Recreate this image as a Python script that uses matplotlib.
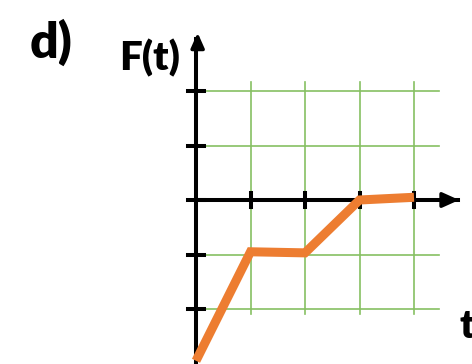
import matplotlib.pyplot as plt

# data (graph units: one grid square = 1)
t_vals = [0, 1, 2, 3, 4]
f_vals = [-2.95, -0.95, -0.97, 0.0, 0.05]
grid_x = [1, 2, 3, 4]
grid_y = [-2, -1, 1, 2]
tick_x = [1, 2, 3, 4]
tick_y = [-2, -1, 0, 1, 2]

W, H = 472, 364
u = 54.5            # pixels per grid unit
ox, oy = 196, 200   # origin position in pixels (from top-left)

fig = plt.figure(figsize=(W / 100, H / 100), dpi=100)
ax = fig.add_axes([0, 0, 1, 1])
ax.set_xlim(-ox / u, (W - ox) / u)
ax.set_ylim(-(H - oy) / u, oy / u)
ax.axis('off')

green = '#86c062'
# grid
for gx in grid_x:
    ax.plot([gx, gx], [-2.1, 2.17], color=green, lw=1.2, zorder=1)
for gy in grid_y:
    ax.plot([0.12, 4.45], [gy, gy], color=green, lw=1.2, zorder=1)

# axes
ax.plot([0, 0], [-3.1, 2.95], color='black', lw=2.9, zorder=3)
ax.plot([0, 4.8], [0, 0], color='black', lw=2.9, zorder=3)
ax.annotate('', xy=(0.03, 3.12), xytext=(0.03, 2.8),
            arrowprops=dict(arrowstyle='-|>,head_length=0.9,head_width=0.4',
                            color='black', lw=2.5), zorder=4)
ax.annotate('', xy=(4.88, 0), xytext=(4.5, 0),
            arrowprops=dict(arrowstyle='-|>,head_length=1.0,head_width=0.45',
                            color='black', lw=2.5), zorder=4)

# ticks
for tx in tick_x:
    ax.plot([tx, tx], [-0.13, 0.13], color='black', lw=2.9, zorder=3)
for ty in tick_y:
    ax.plot([-0.15, 0.15], [ty, ty], color='black', lw=2.9, zorder=3)

# curve
ax.plot(t_vals, f_vals, color='#ed7d31', lw=6.5, solid_joinstyle='miter',
        solid_capstyle='butt', zorder=5)

# labels
ax.text((51 - ox) / u, (oy - 42) / u, 'd)', fontsize=36, fontweight='heavy',
        family='Lato', ha='center', va='center')
ax.text((150 - ox) / u, (oy - 58) / u, 'F(t)', fontsize=29, fontweight='heavy',
        family='Lato', ha='center', va='center')
ax.text((467 - ox) / u, (oy - 326) / u, 't', fontsize=29, fontweight='heavy',
        family='Lato', ha='center', va='center')

fig.savefig('out.png', dpi=100)
